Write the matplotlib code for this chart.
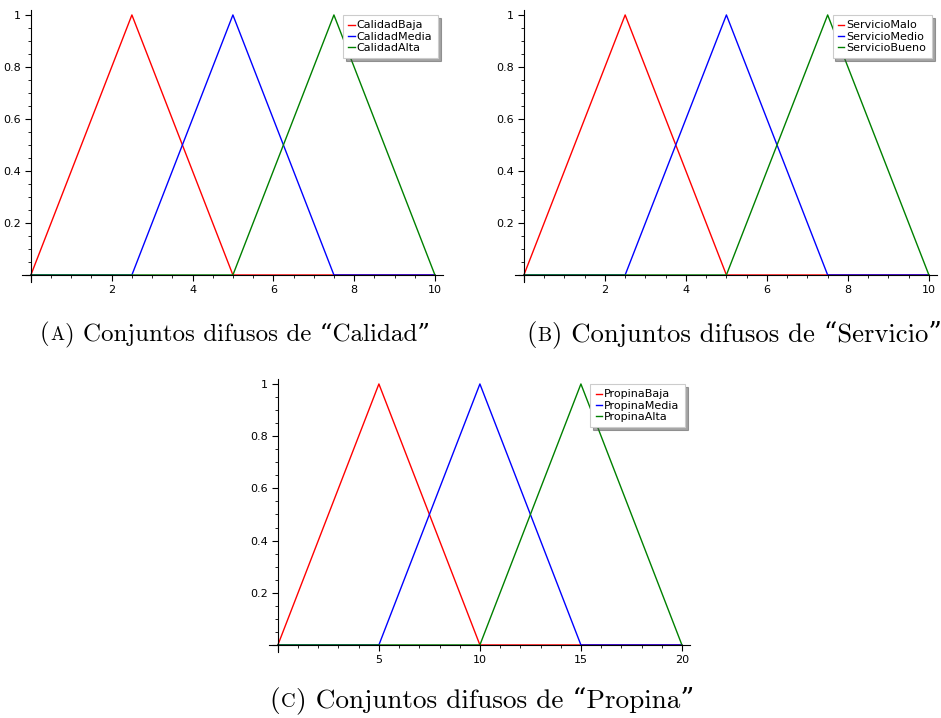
import matplotlib
matplotlib.use("Agg")
import matplotlib.pyplot as plt
from matplotlib.ticker import MultipleLocator, FuncFormatter
from matplotlib.offsetbox import TextArea, HPacker, AnchoredOffsetbox

# ---- data ----
calidad_x = [0, 2.5, 5, 7.5, 10]
calidad_baja = [0, 1, 0, 0, 0]
calidad_media = [0, 0, 1, 0, 0]
calidad_alta = [0, 0, 0, 1, 0]
calidad_labels = ["CalidadBaja", "CalidadMedia", "CalidadAlta"]

servicio_x = [0, 2.5, 5, 7.5, 10]
servicio_malo = [0, 1, 0, 0, 0]
servicio_medio = [0, 0, 1, 0, 0]
servicio_bueno = [0, 0, 0, 1, 0]
servicio_labels = ["ServicioMalo", "ServicioMedio", "ServicioBueno"]

propina_x = [0, 5, 10, 15, 20]
propina_baja = [0, 1, 0, 0, 0]
propina_media = [0, 0, 1, 0, 0]
propina_alta = [0, 0, 0, 1, 0]
propina_labels = ["PropinaBaja", "PropinaMedia", "PropinaAlta"]

caption_letters = ["A", "B", "C"]
caption_texts = [" Conjuntos difusos de \u201cCalidad\u201d",
                 " Conjuntos difusos de \u201cServicio\u201d",
                 " Conjuntos difusos de \u201cPropina\u201d"]

colors = ["#ff0000", "#0000ff", "#008000"]

W, H = 941, 718
fig = plt.figure(figsize=(W / 100, H / 100), dpi=100)


def make_axes(px_left, px_right, px_top, px_bottom):
    return fig.add_axes([px_left / W, 1 - px_bottom / H,
                         (px_right - px_left) / W, (px_bottom - px_top) / H])


def fmt(v, pos):
    if abs(v) < 1e-9:
        return ""
    return "%g" % v


def draw_panel(ax, x, series, labels, xmax, xmajor, xminor):
    for ys, lab, c in zip(series, labels, colors):
        ax.plot(x, ys, color=c, lw=1.0, label=lab)
    ax.set_xlim(-0.022 * xmax, xmax * 1.02)
    ax.set_ylim(-0.027, 1.019)
    for s in ["top", "right"]:
        ax.spines[s].set_visible(False)
    ax.spines["left"].set_position(("data", 0))
    ax.spines["bottom"].set_position(("data", 0))
    ax.spines["left"].set_linewidth(0.8)
    ax.spines["bottom"].set_linewidth(0.8)
    ax.xaxis.set_major_locator(MultipleLocator(xmajor))
    ax.xaxis.set_minor_locator(MultipleLocator(xminor))
    ax.yaxis.set_major_locator(MultipleLocator(0.2))
    ax.yaxis.set_minor_locator(MultipleLocator(0.05))
    ax.xaxis.set_major_formatter(FuncFormatter(fmt))
    ax.yaxis.set_major_formatter(FuncFormatter(fmt))
    ax.tick_params(which="major", length=4, width=0.8, labelsize=8, direction="out", pad=3)
    ax.tick_params(which="minor", length=2, width=0.6, direction="out")
    ax.patch.set_alpha(0)
    leg = ax.legend(loc="upper right", bbox_to_anchor=(0.988, 0.982), fontsize=8,
                    frameon=True, fancybox=False, shadow=True, handlelength=0.55,
                    handletextpad=0.2, labelspacing=0.1, borderpad=0.5,
                    borderaxespad=0.0)
    leg.get_frame().set_edgecolor("#cccccc")
    leg.get_frame().set_linewidth(0.8)


axA = make_axes(22, 443, 10, 282)
draw_panel(axA, calidad_x, [calidad_baja, calidad_media, calidad_alta],
           calidad_labels, 10, 2, 0.5)

axB = make_axes(515, 937, 10, 282)
draw_panel(axB, servicio_x, [servicio_malo, servicio_medio, servicio_bueno],
           servicio_labels, 10, 2, 0.5)

axC = make_axes(269, 690, 379, 652)
draw_panel(axC, propina_x, [propina_baja, propina_media, propina_alta],
           propina_labels, 20, 5, 1)

serif = ["cmr10", "DejaVu Serif"]


def caption(cx, cy, letter, text, size):
    parts = [
        TextArea("(", textprops=dict(fontsize=size, family=serif)),
        TextArea(letter, textprops=dict(fontsize=size * 0.75, family=serif)),
        TextArea(")" + text, textprops=dict(fontsize=size, family=serif)),
    ]
    box = HPacker(children=parts, align="baseline", pad=0, sep=0.5)
    anch = AnchoredOffsetbox(loc="center", child=box, pad=0, borderpad=0,
                             frameon=False, bbox_to_anchor=(cx / W, 1 - cy / H),
                             bbox_transform=fig.transFigure)
    fig.add_artist(anch)


caption(235, 334, caption_letters[0], caption_texts[0], 18)
caption(734, 334, caption_letters[1], caption_texts[1], 19.2)
caption(482, 700, caption_letters[2], caption_texts[2], 19.6)

fig.savefig("out.png", dpi=100)
